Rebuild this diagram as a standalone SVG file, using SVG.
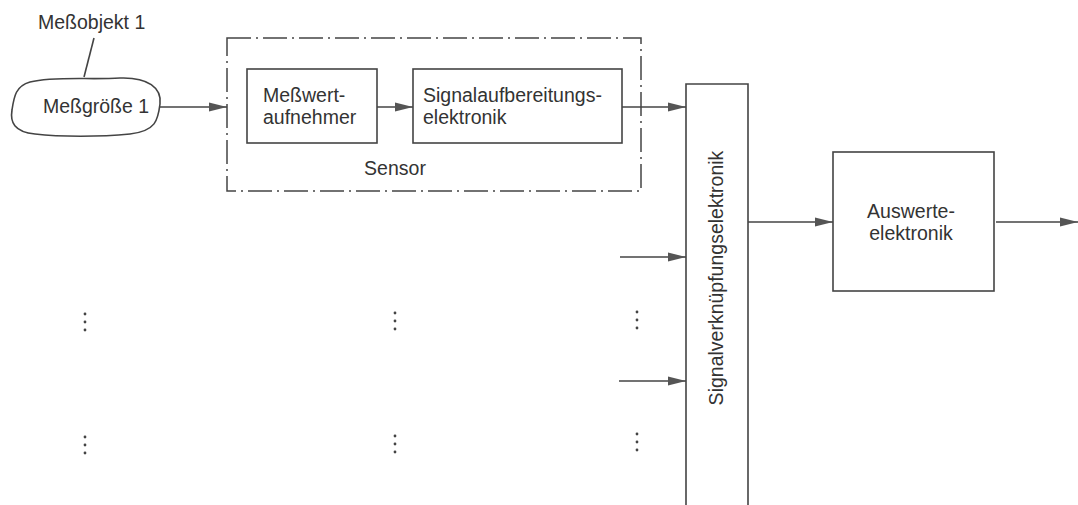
<svg xmlns="http://www.w3.org/2000/svg" width="1078" height="505" viewBox="0 0 1078 505">
<style>
.ln{stroke:#444;stroke-width:1.6;fill:none}
.bx{stroke:#444;stroke-width:1.6;fill:#fff}
.t{font-family:"Liberation Sans",Arial,sans-serif;font-size:19.5px;fill:#333}
.dot{fill:#444}
</style>
<defs>
<marker id="ah" viewBox="0 0 18 10" refX="18" refY="5" markerWidth="18" markerHeight="10" markerUnits="userSpaceOnUse" orient="auto">
<path d="M0,0.5 L18,5 L0,9.5 Z" fill="#555"/>
</marker>
</defs>
<rect width="1078" height="505" fill="#fff"/>
<g id="messobjekt">
<text class="t" x="38" y="29">Meßobjekt 1</text>
<path class="ln" d="M94,38 L84,77"/>
</g>
<g id="messgroesse">
<path class="ln" d="M30,82 C55,76 90,80 120,78 C148,77 162,88 160,104 C158,120 156,131 130,134 C100,137 60,137 35,134 C14,132 10,122 12,110 C14,96 16,86 30,82 Z"/>
<text class="t" x="96" y="113" text-anchor="middle">Meßgröße 1</text>
</g>
<g id="sensor">
<rect x="227" y="38" width="414" height="153" fill="none" stroke="#444" stroke-width="1.5" stroke-dasharray="24,5,2,5"/>
<text class="t" x="395" y="175" text-anchor="middle">Sensor</text>
</g>
<g id="messwertaufnehmer">
<rect class="bx" x="247" y="69" width="130" height="74"/>
<text class="t" x="263" y="102">Meßwert-</text>
<text class="t" x="263" y="124">aufnehmer</text>
</g>
<g id="signalaufbereitung">
<rect class="bx" x="413" y="69" width="209" height="74"/>
<text class="t" x="423" y="102">Signalaufbereitungs-</text>
<text class="t" x="423" y="124">elektronik</text>
</g>
<g id="signalverknuepfung">
<path class="ln" d="M686,505 L686,84 L748,84 L748,505"/>
<text class="t" transform="translate(723,278) rotate(-90)" text-anchor="middle">Signalverknüpfungselektronik</text>
</g>
<g id="auswerte">
<rect class="bx" x="833" y="152" width="161" height="139"/>
<text class="t" x="911" y="218" text-anchor="middle">Auswerte-</text>
<text class="t" x="911" y="240" text-anchor="middle">elektronik</text>
</g>
<g id="connectors">
<line class="ln" x1="160" y1="107" x2="227" y2="107" marker-end="url(#ah)"/>
<line class="ln" x1="377" y1="107" x2="413" y2="107" marker-end="url(#ah)"/>
<line class="ln" x1="622" y1="107" x2="686" y2="107" marker-end="url(#ah)"/>
<line class="ln" x1="620" y1="257" x2="686" y2="257" marker-end="url(#ah)"/>
<line class="ln" x1="619" y1="381" x2="686" y2="381" marker-end="url(#ah)"/>
<line class="ln" x1="748" y1="222" x2="833" y2="222" marker-end="url(#ah)"/>
<line class="ln" x1="996" y1="222" x2="1078" y2="222" marker-end="url(#ah)"/>
</g>
<g id="dots">
<circle class="dot" cx="85" cy="314" r="1.4"/><circle class="dot" cx="85" cy="322" r="1.4"/><circle class="dot" cx="85" cy="330" r="1.4"/>
<circle class="dot" cx="395" cy="313" r="1.4"/><circle class="dot" cx="395" cy="321" r="1.4"/><circle class="dot" cx="395" cy="329" r="1.4"/>
<circle class="dot" cx="637" cy="312" r="1.4"/><circle class="dot" cx="637" cy="320" r="1.4"/><circle class="dot" cx="637" cy="328" r="1.4"/>
<circle class="dot" cx="85" cy="437" r="1.4"/><circle class="dot" cx="85" cy="445" r="1.4"/><circle class="dot" cx="85" cy="453" r="1.4"/>
<circle class="dot" cx="395" cy="436" r="1.4"/><circle class="dot" cx="395" cy="444" r="1.4"/><circle class="dot" cx="395" cy="452" r="1.4"/>
<circle class="dot" cx="637" cy="434" r="1.4"/><circle class="dot" cx="637" cy="442" r="1.4"/><circle class="dot" cx="637" cy="450" r="1.4"/>
</g>
</svg>
